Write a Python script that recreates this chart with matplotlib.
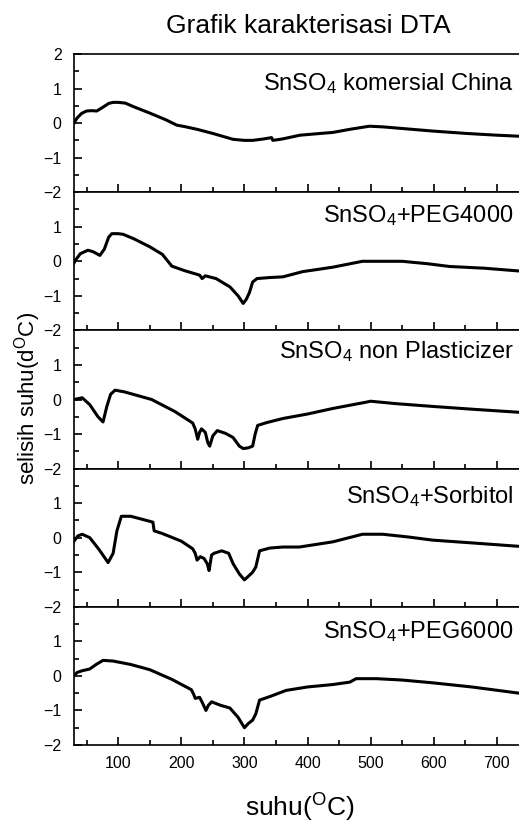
import numpy as np
import matplotlib
matplotlib.use("Agg")
import matplotlib.pyplot as plt
from matplotlib.ticker import MultipleLocator

plt.rcParams["font.family"] = ["Liberation Sans", "DejaVu Sans"]
plt.rcParams["mathtext.fontset"] = "custom"
plt.rcParams["mathtext.rm"] = "Liberation Sans"
plt.rcParams["mathtext.it"] = "Liberation Sans"

# DTA curves (suhu in degC, selisih suhu in d degC)
labels = [
    r"SnSO$_4$ komersial China",
    r"SnSO$_4$+PEG4000",
    r"SnSO$_4$ non Plasticizer",
    r"SnSO$_4$+Sorbitol",
    r"SnSO$_4$+PEG6000",
]

x_china = [30, 35, 42, 50, 58, 66, 75, 85, 92, 100, 111, 125, 150, 175, 193, 205, 225, 250, 282, 300,
           313, 330, 343, 345, 360, 388, 420, 440, 467, 498, 520, 546, 598, 652, 700, 735]
y_china = [0.0, 0.15, 0.28, 0.35, 0.36, 0.35, 0.45, 0.57, 0.6, 0.6, 0.58, 0.47, 0.29, 0.1, -0.06, -0.1, -0.18,
           -0.3, -0.47, -0.5, -0.5, -0.46, -0.42, -0.5, -0.46, -0.35, -0.3, -0.27, -0.18, -0.09, -0.11, -0.15,
           -0.23, -0.3, -0.35, -0.38]

x_peg4 = [30, 33, 40, 52, 60, 71, 78, 85, 90, 100, 108, 125, 150, 170, 185, 205, 229, 233, 238, 255,
          277, 290, 298, 303, 308, 313, 320, 340, 361, 392, 440, 487, 520, 550, 590, 625, 680, 735]
y_peg4 = [-0.05, 0.05, 0.22, 0.32, 0.28, 0.17, 0.35, 0.7, 0.8, 0.8, 0.78, 0.65, 0.42, 0.2, -0.14, -0.27,
          -0.4, -0.5, -0.42, -0.5, -0.74, -1.0, -1.22, -1.1, -0.9, -0.6, -0.5, -0.47, -0.45, -0.3, -0.17,
          0.0, 0.0, 0.0, -0.07, -0.15, -0.2, -0.28]

x_nonp = [30, 43, 55, 68, 76, 82, 88, 95, 110, 153, 190, 218, 222, 226, 229, 232, 238, 242, 245, 250,
          257, 270, 282, 292, 298, 306, 313, 317, 321, 335, 361, 400, 440, 492, 500, 540, 598, 660, 735]
y_nonp = [0.0, 0.05, -0.15, -0.5, -0.65, -0.2, 0.15, 0.27, 0.22, 0.0, -0.35, -0.68, -0.85, -1.15, -0.95,
          -0.85, -0.95, -1.25, -1.35, -1.05, -0.9, -0.98, -1.1, -1.35, -1.42, -1.4, -1.35, -1.0, -0.75, -0.67,
          -0.55, -0.42, -0.26, -0.08, -0.05, -0.12, -0.2, -0.28, -0.37]

x_sorb = [30, 36, 43, 55, 70, 84, 92, 98, 105, 120, 155, 157, 170, 200, 218, 222, 225, 230, 236, 241,
          244, 248, 252, 264, 275, 282, 292, 300, 306, 313, 318, 324, 340, 361, 387, 440, 487, 519, 560,
          598, 660, 735]
y_sorb = [-0.1, 0.05, 0.1, 0.0, -0.35, -0.72, -0.45, 0.2, 0.62, 0.62, 0.45, 0.2, 0.12, -0.1, -0.32, -0.45,
          -0.65, -0.55, -0.6, -0.75, -0.95, -0.5, -0.45, -0.38, -0.45, -0.75, -1.05, -1.22, -1.12, -1.0,
          -0.85, -0.38, -0.3, -0.27, -0.27, -0.12, 0.1, 0.1, 0.02, -0.07, -0.15, -0.25]

x_peg6 = [30, 35, 43, 55, 65, 76, 92, 120, 150, 185, 216, 220, 222, 229, 234, 239, 243, 248, 262, 277,
          290, 300, 306, 313, 318, 324, 340, 366, 400, 440, 467, 477, 509, 550, 598, 660, 735]
y_peg6 = [0.0, 0.1, 0.15, 0.2, 0.33, 0.45, 0.43, 0.33, 0.18, -0.1, -0.4, -0.55, -0.65, -0.62, -0.8, -1.0,
          -0.85, -0.75, -0.85, -0.93, -1.2, -1.5, -1.38, -1.28, -1.1, -0.7, -0.6, -0.42, -0.32, -0.25, -0.18,
          -0.08, -0.08, -0.12, -0.2, -0.32, -0.5]

xs = [x_china, x_peg4, x_nonp, x_sorb, x_peg6]
ys = [y_china, y_peg4, y_nonp, y_sorb, y_peg6]
label_y = [0.96, 1.13, 1.19, 1.01, 1.1]

fig = plt.figure(figsize=(5.19, 8.24), dpi=100)
left, right = 74 / 519, 1.0
top, bottom = 1 - 54 / 824, 1 - 745 / 824
h = (top - bottom) / 5

for i in range(5):
    ax = fig.add_axes([left, top - (i + 1) * h, right - left, h])
    ax.plot(xs[i], ys[i], color="black", lw=2.2, solid_joinstyle="round")
    ax.set_xlim(30, 735)
    ax.set_ylim(-2, 2)
    ax.xaxis.set_major_locator(MultipleLocator(100))
    ax.xaxis.set_minor_locator(MultipleLocator(50))
    ax.yaxis.set_major_locator(MultipleLocator(1))
    ax.yaxis.set_minor_locator(MultipleLocator(0.5))
    ax.tick_params(which="both", direction="in", top=False, right=False, labelsize=11.5, width=1.2)
    ax.tick_params(which="major", length=6)
    ax.tick_params(which="minor", length=3.3)
    ax.tick_params(axis="y", pad=9)
    ax.tick_params(axis="x", pad=8)
    for s in ax.spines.values():
        s.set_linewidth(1.2)
    ax.spines["right"].set_visible(False)
    if i > 0:
        ax.set_yticks([-2, -1, 0, 1])
    if i < 4:
        ax.tick_params(labelbottom=False)
    ax.text(735 - 0.012 * 705, label_y[i], labels[i], ha="right", va="baseline", fontsize=17)

fig.text(0.594, 0.968, "Grafik karakterisasi DTA", ha="center", va="center", fontsize=19)
fig.text(0.578, 0.02, r"suhu($^{\mathrm{O}}$C)", ha="center", va="center", fontsize=19)
fig.text(0.054, 0.516, r"selisih suhu(d$^{\mathrm{O}}$C)", ha="center", va="center", rotation=90, fontsize=16)

fig.savefig("out.png", dpi=100)
